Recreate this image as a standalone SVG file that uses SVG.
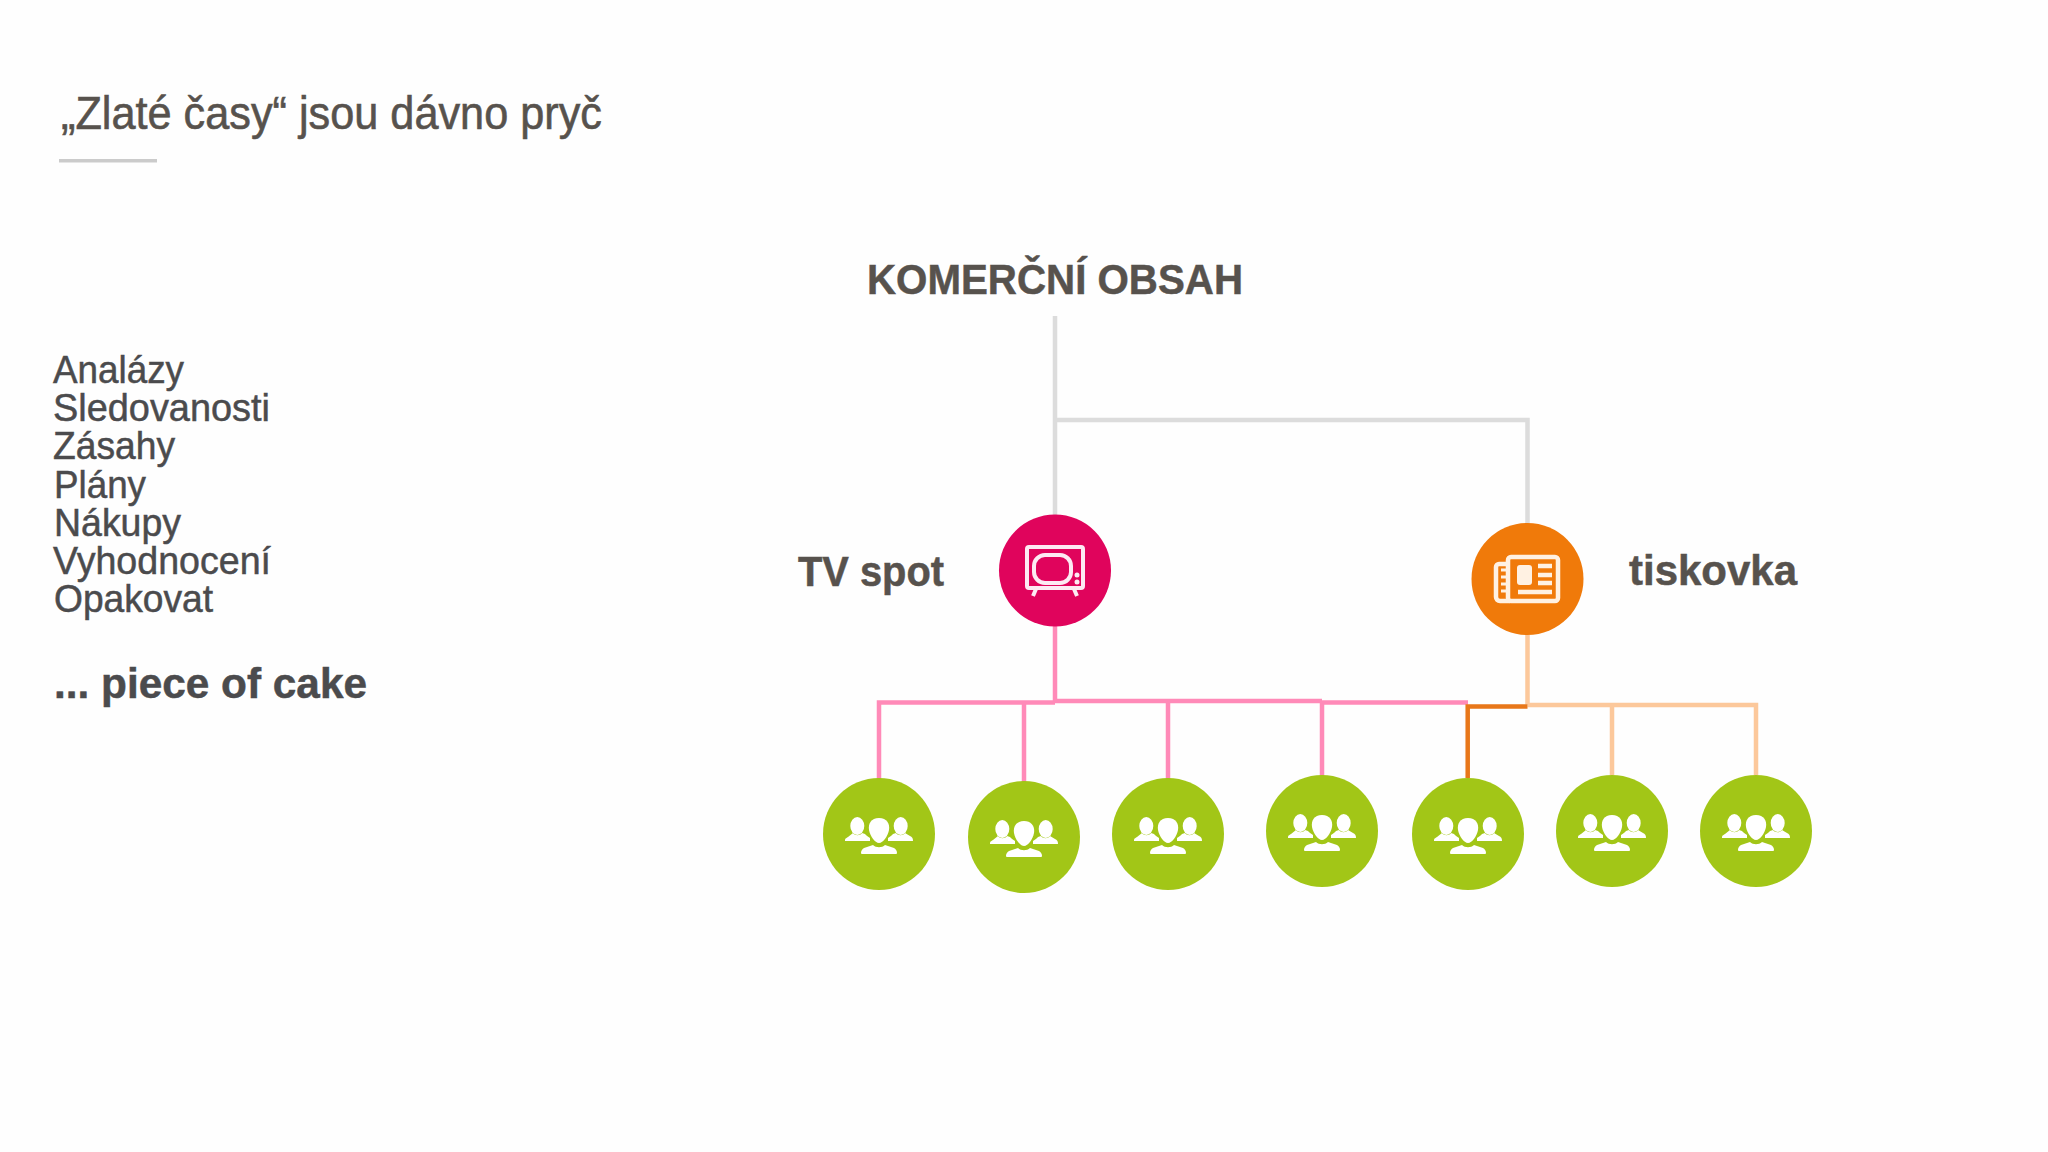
<svg xmlns="http://www.w3.org/2000/svg" xmlns:xlink="http://www.w3.org/1999/xlink" width="2048" height="1152" viewBox="0 0 2048 1152">
<style>
text{font-family:"Liberation Sans",Arial,sans-serif;fill:#57524d;stroke:#57524d}
.t{font-size:46px;stroke-width:.6px}
.l text{font-size:38px;stroke-width:.5px;fill:#4b4b4d;stroke:#4b4b4d}
.b{font-size:42px;font-weight:700;stroke-width:.5px}
.c{fill:none;stroke-width:4.5}
.gr{stroke:#dcdcdc}.pk{stroke:#ff8ab8}.lo{stroke:#fcc89b}.do{stroke:#e8771a}
.g{fill:#a2c617}
.ic{fill:#fff}
.tv{fill:none;stroke:#fdeaf3;stroke-width:4}
.nw{fill:none;stroke:#fff1e2;stroke-width:4.5}
</style>
<defs>
<g id="people" class="ic">
<ellipse cx="-21.700" cy="-8" rx="7" ry="9"/><path d="M-26-1c2 3 7 3 9 0l3 1c1 1 3 3 5 4v3h-25v-1c0-2 2-2 3-3z"/>
<ellipse cx="21.700" cy="-8" rx="7" ry="9"/><path d="M17-1c2 3 7 3 9 0l5 3c2 1 3 2 3 5h-25v-3c2-1 4-3 5-4z"/>
<path d="M0-16c8 0 11 6 10 12-1 6-6 13-10 13s-9-7-10-13c-1-6 2-12 10-12z"/>
<path d="M-6 11c3 3 9 3 12 0l9 3c2 1 3 3 3 5 0 1-1 1-2 1h-32c-1 0-2 0-2-1 0-2 1-4 3-5z"/>
</g>
</defs>
<rect width="2048" height="1152" fill="#fefefe"/>
<text class="t" x="61" y="129" textLength="541" lengthAdjust="spacingAndGlyphs">„Zlaté časy“ jsou dávno pryč</text>
<rect x="59" y="159" width="98" height="3.500" fill="#cbcbcb"/>
<g class="l">
<text x="53" y="383" textLength="131" lengthAdjust="spacingAndGlyphs">Analázy</text>
<text x="53" y="421" textLength="217" lengthAdjust="spacingAndGlyphs">Sledovanosti</text>
<text x="53" y="459" textLength="122" lengthAdjust="spacingAndGlyphs">Zásahy</text>
<text x="54" y="498" textLength="92" lengthAdjust="spacingAndGlyphs">Plány</text>
<text x="54" y="536" textLength="127" lengthAdjust="spacingAndGlyphs">Nákupy</text>
<text x="53" y="574" textLength="218" lengthAdjust="spacingAndGlyphs">Vyhodnocení</text>
<text x="54" y="612" textLength="159" lengthAdjust="spacingAndGlyphs">Opakovat</text>
</g>
<text class="b" x="54" y="698" textLength="313" lengthAdjust="spacingAndGlyphs" style="fill:#4b4b4d;stroke:#4b4b4d">... piece of cake</text>
<text class="b" x="867" y="294" textLength="376" lengthAdjust="spacingAndGlyphs">KOMERČNÍ OBSAH</text>
<text class="b" x="798" y="586" textLength="146" lengthAdjust="spacingAndGlyphs">TV spot</text>
<text class="b" x="1629" y="585" textLength="168" lengthAdjust="spacingAndGlyphs">tiskovka</text>
<g id="connectors">
<path class="c gr" d="M1055 316V516M1055 420H1527.500V524"/>
<path class="c pk" d="M1055 626V703M879 779V702.500H1055M1024 782V702.500M1055 701H1322M1168 779V701M1322 776V701M1322 702.500H1468"/>
<path class="c lo" d="M1527.500 635V704.500M1527.500 705H1756V775M1612 705V775"/>
<path class="c do" d="M1527.500 706.500H1467.700V778"/>
</g>
<g id="tv"><circle cx="1055" cy="570.500" r="56" fill="#e0045c"/>
<rect class="tv" x="1027" y="547" width="56" height="41" rx="2"/><rect class="tv" x="1034" y="555" width="37" height="28" rx="11"/>
<circle cx="1077" cy="575" r="2.500" fill="#fdeaf3"/><circle cx="1077" cy="582" r="2.500" fill="#fdeaf3"/>
<path class="tv" d="M1036 589L1033 596M1074 589L1077 596"/></g>
<g id="press"><circle cx="1527.500" cy="579" r="56" fill="#f07a0a"/>
<rect class="nw" x="1508" y="557" width="50" height="44" rx="3"/>
<path class="nw" d="M1508 564H1499a3 3 0 0 0-3 3V597a4 4 0 0 0 4 4H1510"/>
<rect x="1517" y="565" width="15" height="20" rx="3" fill="#fff1e2"/>
<path class="nw" stroke-width="3" d="M1538 566H1552M1538 575H1552M1538 583H1552M1518 592H1552"/>
<path d="M1501 570h6M1501 577h6M1501 584h6M1501 591h6" stroke="#fff1e2" stroke-width="3"/></g>
<g id="a1"><circle class="g" cx="879" cy="834" r="56"/><use xlink:href="#people" href="#people" x="879" y="834"/></g>
<g id="a2"><circle class="g" cx="1024" cy="837" r="56"/><use xlink:href="#people" href="#people" x="1024" y="837"/></g>
<g id="a3"><circle class="g" cx="1168" cy="834" r="56"/><use xlink:href="#people" href="#people" x="1168" y="834"/></g>
<g id="a4"><circle class="g" cx="1322" cy="831" r="56"/><use xlink:href="#people" href="#people" x="1322" y="831"/></g>
<g id="a5"><circle class="g" cx="1468" cy="834" r="56"/><use xlink:href="#people" href="#people" x="1468" y="834"/></g>
<g id="a6"><circle class="g" cx="1612" cy="831" r="56"/><use xlink:href="#people" href="#people" x="1612" y="831"/></g>
<g id="a7"><circle class="g" cx="1756" cy="831" r="56"/><use xlink:href="#people" href="#people" x="1756" y="831"/></g>
</svg>
